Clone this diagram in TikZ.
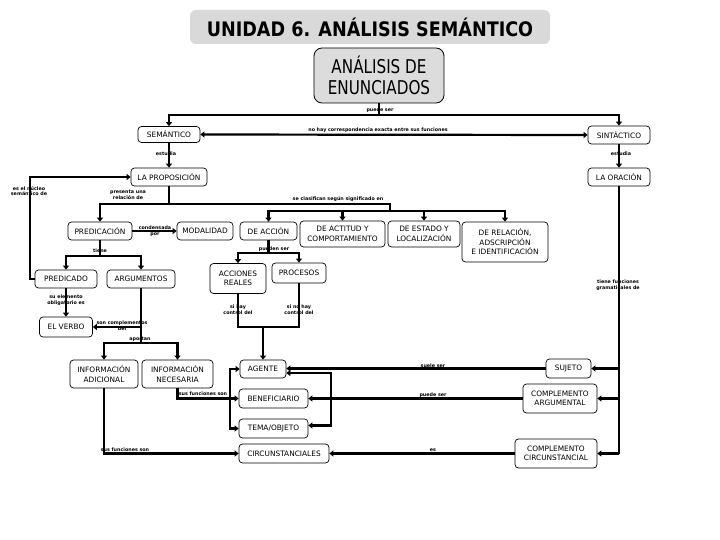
\documentclass[tikz,border=0pt]{standalone}
\usepackage{fontspec}
\setmainfont{DejaVu Sans}
\newfontfamily\titlefont[FakeStretch=0.88]{DejaVu Sans}
\newfontfamily\enfont[FakeStretch=0.8]{DejaVu Sans}
\newfontfamily\labfam{DejaVu Sans}
\usetikzlibrary{arrows.meta}
\definecolor{titlegray}{HTML}{D9D9D9}
\definecolor{engray}{HTML}{DCDCDC}
\begin{document}
\begin{tikzpicture}[x=1pt,y=-1pt,
 box/.style={draw, line width=0.7pt, rounded corners=3.5pt, fill=white, align=center, inner sep=1pt, font=\fontsize{7.4}{9.5}\selectfont},
 lab/.style={font=\labfam\bfseries\fontsize{4.8}{5.6}\selectfont, inner sep=0.3pt, align=center},
 ln/.style={line width=2.2pt},
 ar/.style={line width=2.2pt, -{Triangle[length=4pt,width=6pt]}},
 arr/.style={line width=2.2pt, {Triangle[length=4pt,width=6pt]}-{Triangle[length=4pt,width=6pt]}}]
\useasboundingbox (0,0) rectangle (720,540);
% nodes
\node[fill=titlegray, rounded corners=6pt, minimum width=360pt, minimum height=34pt, font=\titlefont\bfseries\fontsize{20}{20}\selectfont] (title) at (370,27) {UNIDAD 6. ANÁLISIS SEMÁNTICO};
\node[draw, line width=0.8pt, fill=engray, rounded corners=8pt, minimum width=130pt, minimum height=55pt, align=center, font=\enfont\fontsize{19}{21.5}\selectfont] (enun) at (379,75.5) {ANÁLISIS DE\\ENUNCIADOS};
\node[box, minimum width=62pt, minimum height=16pt] (sem) at (169,134.5) {SEMÁNTICO};
\node[box, minimum width=62pt, minimum height=18pt] (sint) at (619,135) {SINTÁCTICO};
\node[box, minimum width=76pt, minimum height=18pt] (prop) at (169,177) {LA PROPOSICIÓN};
\node[box, minimum width=62pt, minimum height=18pt] (orac) at (619,177) {LA ORACIÓN};
\node[box, minimum width=64pt, minimum height=18pt] (predic) at (100,231) {PREDICACIÓN};
\node[box, minimum width=56pt, minimum height=18pt] (modal) at (205,231) {MODALIDAD};
\node[box, minimum width=57pt, minimum height=18pt] (acc) at (268.5,231) {DE ACCIÓN};
\node[box, minimum width=85pt, minimum height=26pt] (act) at (342.5,234) {DE ACTITUD Y\\COMPORTAMIENTO};
\node[box, minimum width=72pt, minimum height=26pt] (est) at (424,234) {DE ESTADO Y\\LOCALIZACIÓN};
\node[box, minimum width=86pt, minimum height=40pt] (rel) at (505,242) {DE RELACIÓN,\\ADSCRIPCIÓN\\E IDENTIFICACIÓN};
\node[box, minimum width=62pt, minimum height=18pt] (predo) at (66,279) {PREDICADO};
\node[box, minimum width=68pt, minimum height=18pt] (argu) at (141,279) {ARGUMENTOS};
\node[box, minimum width=56pt, minimum height=30pt] (accr) at (238,278.5) {ACCIONES\\REALES};
\node[box, minimum width=54pt, minimum height=20pt] (proc) at (299,273) {PROCESOS};
\node[box, minimum width=53pt, minimum height=20pt] (verbo) at (66,327) {EL VERBO};
\node[box, minimum width=68pt, minimum height=28pt] (infad) at (104,374) {INFORMACIÓN\\ADICIONAL};
\node[box, minimum width=71pt, minimum height=28pt] (infnec) at (177.5,374) {INFORMACIÓN\\NECESARIA};
\node[box, minimum width=46pt, minimum height=18pt] (agente) at (263,369) {AGENTE};
\node[box, minimum width=69pt, minimum height=19pt] (benef) at (273.5,398.5) {BENEFICIARIO};
\node[box, minimum width=69pt, minimum height=19pt] (tema) at (273.5,428.5) {TEMA/OBJETO};
\node[box, minimum width=90pt, minimum height=19pt] (circ) at (284,453.5) {CIRCUNSTANCIALES};
\node[box, minimum width=45pt, minimum height=19pt] (sujeto) at (568.5,368.5) {SUJETO};
\node[box, minimum width=74pt, minimum height=29pt] (carg) at (560,398.5) {COMPLEMENTO\\ARGUMENTAL};
\node[box, minimum width=82pt, minimum height=29pt] (ccirc) at (556,453.5) {COMPLEMENTO\\CIRCUNSTANCIAL};
% coordinates
\coordinate (t1) at (379,115);
\coordinate (lx) at (30,230);
\coordinate (b1) at (169,204);
\coordinate (b2) at (390,204);
\coordinate (b3) at (390,211);
\coordinate (b4) at (100,256);
\coordinate (b5) at (141,343);
\coordinate (b6) at (268.5,253);
\coordinate (b7) at (263,327);
\coordinate (rx) at (331,400);
\coordinate (lx2) at (230,400);
% connectors
\draw[ln] (enun.south) -- (t1);
\draw[ar] (t1) -| (sem.north);
\draw[ar] (t1) -| (sint.north);
\draw[arr] (sem.east) -- (sint.west);
\draw[ar] (sem.south) -- (prop.north);
\draw[ar] (sint.south) -- (orac.north);
\draw[ar] (predo.west) -- (predo.west -| lx) -- (prop.west -| lx) -- (prop.west);
\draw[ln] (prop.south) -- (b1) -- (b2) -- (b3);
\draw[ar] (b1) -| (predic.north);
\draw[ar] (b3) -| (acc.north);
\draw[ar] (b3) -| (act.north);
\draw[ar] (b3) -| (est.north);
\draw[ar] (b3) -| (rel.north);
\draw[ar] (predic.east) -- (modal.west);
\draw[ln] (predic.south) -- (b4);
\draw[ar] (b4) -| (predo.north);
\draw[ar] (b4) -| (argu.north);
\draw[ar] (predo.south) -- (verbo.north);
\draw[ln] (argu.south) -- (b5);
\draw[ar] (argu.south |- verbo.east) -- (verbo.east);
\draw[ar] (b5) -| (infad.north);
\draw[ar] (b5) -| (infnec.north);
\draw[ln] (acc.south) -- (b6);
\draw[ar] (b6) -| (accr.north);
\draw[ar] (b6) -| (proc.north);
\draw[ln] (accr.south) |- (b7);
\draw[ln] (proc.south) |- (b7);
\draw[ar] (b7) -- (agente.north);
\draw[ln] (orac.south) -- (orac.south |- ccirc.east);
\draw[ar] (orac.south |- sujeto.east) -- (sujeto.east);
\draw[ar] (orac.south |- carg.east) -- (carg.east);
\draw[ar] (orac.south |- ccirc.east) -- (ccirc.east);
\draw[ar] (sujeto.west) -- (agente.east |- sujeto.west);
\draw[ar] (carg.west) -- (benef.east |- carg.west);
\draw[ar] (ccirc.west) -- (circ.east |- ccirc.west);
\draw[arr] ([yshift=-4pt]agente.east) -| (rx) |- ([yshift=3pt]tema.east);
\draw[arr] (agente.west) -| (lx2) |- (tema.west);
\draw[ar] (infnec.south) |- (benef.west);
\draw[ar] (infad.south) |- (circ.west);
% labels
\node[lab] (l1) at (380,110) {puede ser};
\node[lab] (l2) at (378,130.5) {no hay correspondencia exacta entre sus funciones};
\node[lab] (l3) at (166,154) {estudia};
\node[lab] (l4) at (621,154) {estudia};
\node[lab] (l5) at (29,191) {es el núcleo\\semántico de};
\node[lab] (l6) at (128,195) {presenta una\\relación de};
\node[lab] (l7) at (338,199.5) {se clasifican según significado en};
\node[lab] (l8) at (155,231) {condensada\\por};
\node[lab] (l9) at (100,251) {tiene};
\node[lab] (l10) at (66,300) {su elemento\\obligatorio es};
\node[lab] (l11) at (122,326) {son complementos\\del};
\node[lab] (l12) at (140,339) {aportan};
\node[lab] (l13) at (274,249) {pueden ser};
\node[lab] (l14) at (238,309.5) {si hay\\control del};
\node[lab] (l15) at (299,309.5) {si no hay\\control del};
\node[lab] (l16) at (618,285) {tiene funciones\\gramaticales de};
\node[lab] (l17) at (433,365.5) {suele ser};
\node[lab] (l18) at (433,395) {puede ser};
\node[lab] (l19) at (433,450.5) {es};
\node[lab] (l20) at (203,394) {sus funciones son};
\node[lab] (l21) at (125,449.5) {sus funciones son};
\end{tikzpicture}
\end{document}
